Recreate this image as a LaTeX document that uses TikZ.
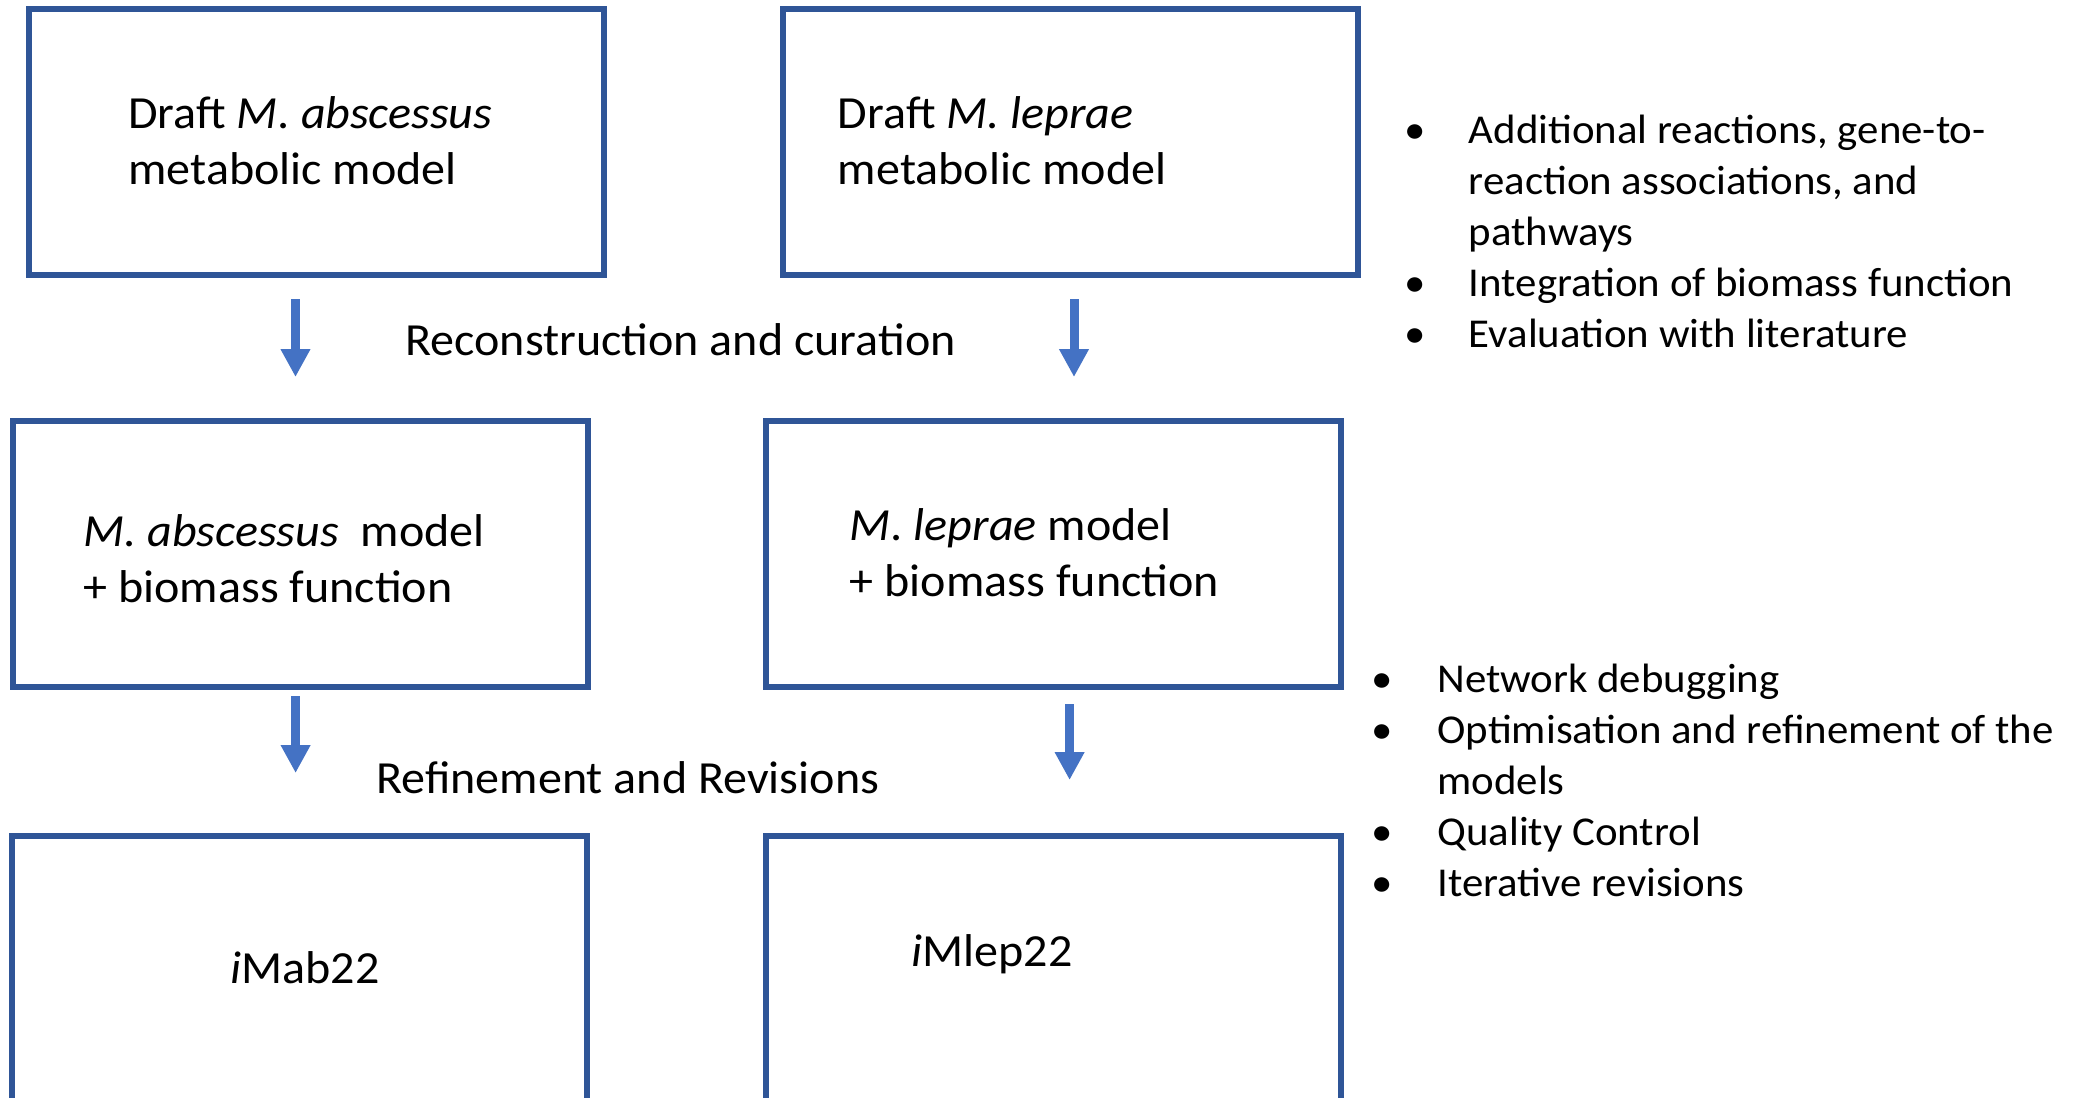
\documentclass[tikz,border=0pt]{standalone}
\usepackage{fontspec}
\setmainfont{Carlito}[FakeStretch=1.045]
\usetikzlibrary{arrows.meta}
\definecolor{boxblue}{HTML}{2F5597}
\definecolor{arrblue}{HTML}{4472C4}
\begin{document}
\begin{tikzpicture}[x=0.5pt,y=-0.5pt,
 box/.style={draw=boxblue, line width=3pt, minimum width=287.5pt, minimum height=133.2pt, inner sep=0pt},
 arr/.style={draw=arrblue, line width=4.5pt, -{Triangle[width=14pt,length=14pt]}},
 btext/.style={anchor=base west, inner sep=0pt, font=\fontsize{23pt}{28pt}\selectfont},
 ltext/.style={anchor=base west, inner sep=0pt, font=\fontsize{20.5pt}{25pt}\selectfont},
 bul/.style={anchor=base, inner sep=0pt, font=\fontsize{20.5pt}{25pt}\selectfont}]
\useasboundingbox (0,0) rectangle (2079,1098);
\clip (0,0) rectangle (2079,1098);
\fill[white] (0,0) rectangle (2079,1098);
% boxes
\node[box] (b1) at (316.5,141.85) {};
\node[box] (b2) at (1070,141.85) {};
\node[box] (b3) at (300.3,553.75) {};
\node[box] (b4) at (1053.5,553.75) {};
\node[box, minimum height=147pt] (b5) at (299.75,983) {};
\node[box, minimum height=147pt] (b6) at (1053,983) {};
% box texts
\node[btext] (t1a) at (128,128) {Draft \textit{M. abscessus}};
\node[btext] (t1b) at (128,184) {metabolic model};
\node[btext] (t2a) at (837.5,128) {Draft \textit{M. leprae}};
\node[btext] (t2b) at (837.5,184) {metabolic model};
\node[btext] (t3a) at (83,546) {\textit{M. abscessus}\ \ model};
\node[btext] (t3b) at (83,602) {+ biomass function};
\node[btext] (t4a) at (849.5,540) {\textit{M. leprae} model};
\node[btext] (t4b) at (849.5,596) {+ biomass function};
\node[btext] (t5) at (230,983) {\textit{i}Mab22};
\node[btext] (t6) at (911,966) {\textit{i}Mlep22};
% step labels
\node[btext] (l1) at (405,355) {Reconstruction and curation};
\node[btext] (l2) at (376,793) {Refinement and Revisions};
% arrows
\coordinate (a1s) at (295.5,299); \coordinate (a1e) at (295.5,377);
\coordinate (a2s) at (1074,299);  \coordinate (a2e) at (1074,377);
\coordinate (a3s) at (295.6,696); \coordinate (a3e) at (295.6,773);
\coordinate (a4s) at (1069.6,704); \coordinate (a4e) at (1069.6,780);
\draw[arr] (a1s) -- (a1e);
\draw[arr] (a2s) -- (a2e);
\draw[arr] (a3s) -- (a3e);
\draw[arr] (a4s) -- (a4e);
% top bullet list
\node[bul] (p1) at (1415,143) {•};
\node[ltext] (r1a) at (1468.5,143) {Additional reactions, gene-to-};
\node[ltext] (r1b) at (1468.5,194) {reaction associations, and};
\node[ltext] (r1c) at (1468.5,245) {pathways};
\node[bul] (p2) at (1415,296) {•};
\node[ltext] (r2) at (1468.5,296) {Integration of biomass function};
\node[bul] (p3) at (1415,347) {•};
\node[ltext] (r3) at (1468.5,347) {Evaluation with literature};
% bottom bullet list
\node[bul] (q1) at (1382.5,692) {•};
\node[ltext] (s1) at (1437,692) {Network debugging};
\node[bul] (q2) at (1382.5,743) {•};
\node[ltext] (s2a) at (1437,743) {Optimisation and refinement of the};
\node[ltext] (s2b) at (1437,794) {models};
\node[bul] (q3) at (1382.5,845) {•};
\node[ltext] (s3) at (1437,845) {Quality Control};
\node[bul] (q4) at (1382.5,896) {•};
\node[ltext] (s4) at (1437,896) {Iterative revisions};
\end{tikzpicture}
\end{document}
